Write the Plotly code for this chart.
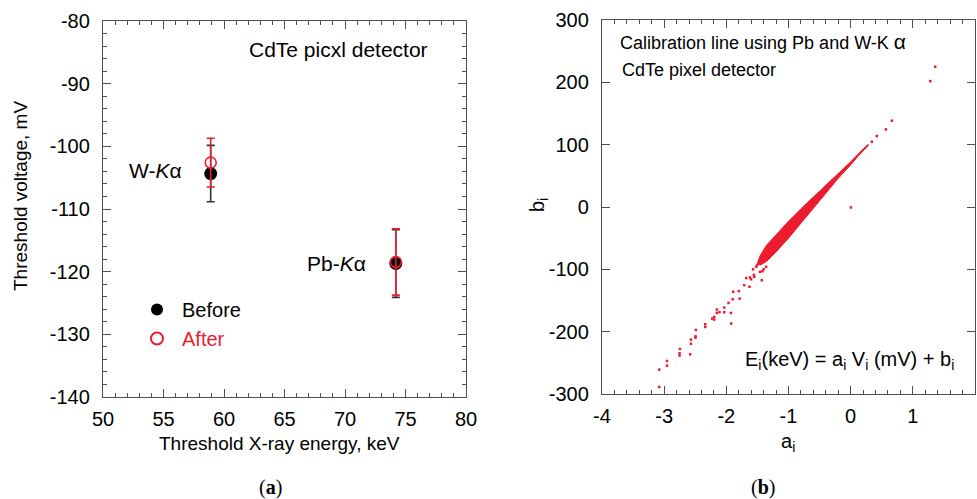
import plotly.graph_objects as go

# ---------------- Panel (a) data ----------------
energy_keV = [58.9, 74.2]
before_mV = [-104.35, -118.7]
before_err = [4.5, 5.4]
after_mV = [-102.6, -118.45]
after_err = [3.9, 5.3]

xa_ticks = [50, 55, 60, 65, 70, 75, 80]
xa_text = ["50", "55", "60", "65", "70", "75", "80"]
ya_ticks = [-140, -130, -120, -110, -100, -90, -80]
ya_text = ["-140", "-130", "-120", "-110", "-100", "-90", "-80"]

# ---------------- Panel (b) data ----------------
# dense core of the a_i / b_i cloud (outline)
core_a = [-1.50, -1.45, -1.35, -1.20, -1.00, -0.80, -0.60, -0.40, -0.20, 0.00, 0.15, 0.28,
          0.28, 0.15, 0.00, -0.20, -0.40, -0.60, -0.80, -1.00, -1.20, -1.35, -1.45, -1.50]
core_b = [-90, -77, -61, -44, -23, -3, 16, 34, 53, 72.5, 88, 100.5,
          98, 85, 67.5, 46, 22, -2, -27, -50, -72, -87, -93, -92]

# isolated pixels
sparse_a = [-3.079, -3.079, -2.955, -2.955, -2.746, -2.753, -2.753, -2.581, -2.570, -2.570,
            -2.489, -2.496, -2.496, -2.340, -2.340, -2.227, -2.195, -2.195, -2.152, -2.152,
            -2.110, -2.034, -2.034, -1.965, -1.922, -1.927, -1.898, -1.890, -1.800, -1.785,
            -1.713, -1.680, -1.628, -1.600, -1.557, -1.504, -1.430, -1.420, -1.620, -1.570,
            -1.550, -1.520, -1.460, -1.400, -1.360, 0.004, 0.341, 0.420, 0.566, 0.663,
            1.280, 1.360]
sparse_b = [-288.8, -260.9, -247.0, -254.5, -227.7, -234.7, -238.4, -236.3, -212.7, -219.5,
            -197.2, -207.4, -209.5, -188.1, -192.4, -179.0, -176.4, -180.6, -164.5, -169.9,
            -168.8, -161.3, -168.8, -153.9, -187.0, -170.0, -148.0, -136.0, -135.0, -147.0,
            -125.5, -114.0, -128.0, -116.0, -109.0, -93.0, -117.5, -103.0, -113.0, -100.0,
            -112.0, -96.0, -104.0, -100.0, -96.0, -0.7, 104.7, 113.8, 124.5, 138.4,
            202.0, 225.0]

xb_ticks = [-4, -3, -2, -1, 0, 1, 2]
xb_text = ["-4", "-3", "-2", "-1", "0", "1", "2"]
yb_ticks = [-300, -200, -100, 0, 100, 200, 300]
yb_text = ["-300", "-200", "-100", "0", "100", "200", "300"]

RED = "#ec1c2e"
AX = "#505050"
FONT = "Liberation Sans, Arial, Helvetica, sans-serif"
SERIF = "Liberation Serif, serif"

W, H = 977, 499
def px(x):
    return x / W
def py(y):
    return 1 - y / H

fig = go.Figure()

# Panel (a)
fig.add_trace(go.Scatter(
    x=energy_keV, y=before_mV, mode="markers", name="Before", legendgroup="g1",
    marker=dict(symbol="circle", size=13, color="black"),
    error_y=dict(type="data", array=before_err, color="#333333", thickness=1.6, width=4),
    xaxis="x", yaxis="y"))
fig.add_trace(go.Scatter(
    x=energy_keV, y=after_mV, mode="markers", legendgroup="g2",
    name="<span style='color:%s'>After</span>" % RED,
    marker=dict(symbol="circle-open", size=11, color=RED, line=dict(width=1.6, color=RED)),
    error_y=dict(type="data", array=after_err, color=RED, thickness=1.6, width=4),
    xaxis="x", yaxis="y"))

# Panel (b)
fig.add_trace(go.Scatter(
    x=core_a, y=core_b, mode="lines", fill="toself", fillcolor=RED,
    line=dict(color=RED, width=1), showlegend=False, xaxis="x2", yaxis="y2"))
fig.add_trace(go.Scatter(
    x=sparse_a, y=sparse_b, mode="markers", showlegend=False,
    marker=dict(symbol="square", size=2.5, color=RED, line=dict(width=0)),
    xaxis="x2", yaxis="y2"))

common_axis = dict(showgrid=False, zeroline=False, showline=True, linecolor=AX, linewidth=1.3,
                   mirror="allticks", ticks="inside", ticklen=8, tickwidth=1.2, tickcolor=AX,
                   tickmode="array", automargin=False,
                   tickfont=dict(family=FONT, size=20, color="black"))

fig.update_layout(
    template="none",
    width=W, height=H, margin=dict(l=0, r=0, t=0, b=0, pad=0, autoexpand=False),
    paper_bgcolor="white", plot_bgcolor="white",
    font=dict(family=FONT, color="black"),
    xaxis=dict(domain=[px(103), px(466)], range=[50, 80], anchor="y",
               tickvals=xa_ticks, ticktext=xa_text,
               minor=dict(dtick=1, ticklen=4, ticks="inside", tickcolor=AX, tickwidth=1),
               ticklabelstandoff=4, **common_axis),
    yaxis=dict(domain=[py(397), py(21)], range=[-140, -80], anchor="x",
               tickvals=ya_ticks, ticktext=ya_text,
               minor=dict(dtick=2, ticklen=4, ticks="inside", tickcolor=AX, tickwidth=1),
               ticklabelstandoff=8, **common_axis),
    xaxis2=dict(domain=[px(602), px(975)], range=[-4, 2], anchor="y2",
                tickvals=xb_ticks, ticktext=xb_text,
                minor=dict(dtick=0.2, ticklen=4, ticks="inside", tickcolor=AX, tickwidth=1),
                ticklabelstandoff=4, **common_axis),
    yaxis2=dict(domain=[py(394), py(20)], range=[-300, 300], anchor="x2",
                tickvals=yb_ticks, ticktext=yb_text,
                ticklabelstandoff=8, **common_axis),
    legend=dict(x=px(132), y=py(290), xanchor="left", yanchor="top",
                bgcolor="rgba(0,0,0,0)", font=dict(family=FONT, size=20, color="black"),
                itemsizing="constant", tracegroupgap=0, itemwidth=40),
    showlegend=True,
)

def ann(text, x, y, size=18, xanchor="left", yanchor="middle", color="black", family=FONT, angle=0):
    fig.add_annotation(text=text, x=px(x), y=py(y), xref="paper", yref="paper", showarrow=False,
                       xanchor=xanchor, yanchor=yanchor, textangle=angle,
                       font=dict(family=family, size=size, color=color))

# axis titles
ann("Threshold X-ray energy, keV", 279.5, 443, size=19, xanchor="center")
ann("Threshold voltage, mV", 21, 196, size=19, xanchor="center", angle=-90)
ann("a<sub>i</sub>", 788, 442, size=20, xanchor="center")
ann("b<sub>i</sub>", 538, 205, size=20, xanchor="center", angle=-90)

# panel labels
ann("(<b>a</b>)", 270, 487, size=20, xanchor="center", family=SERIF)
ann("(<b>b</b>)", 763, 487, size=20, xanchor="center", family=SERIF)

# in-plot texts, panel (a)
ann("CdTe picxl detector", 247, 50, size=21)
ann("W-<i>K</i>α", 127, 170, size=21)
ann("Pb-<i>K</i>α", 305, 263, size=21)

# in-plot texts, panel (b)
ann("Calibration line using Pb and W-K <span style='font-size:21px'>α</span>", 618, 42, size=18)
ann("CdTe pixel detector", 620, 70, size=18)
ann("E<sub>i</sub>(keV) = a<sub>i</sub> V<sub>i</sub> (mV) + b<sub>i</sub>", 743, 360, size=20)

fig.write_html("out.html")
